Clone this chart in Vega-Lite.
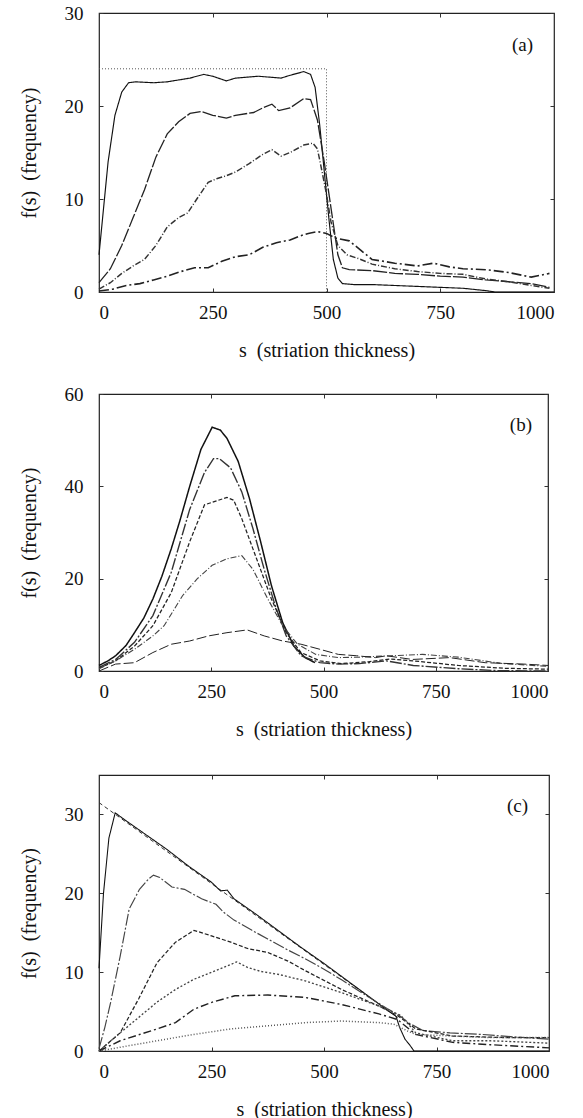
{
  "$schema": "https://vega.github.io/schema/vega-lite/v6.json",
  "padding": {"left": 18, "top": 3, "right": 5, "bottom": 0},
  "background": "white",
  "datasets": {
    "a": [
      {"series": "A0", "s": 0, "f": 24}, {"series": "A0", "s": 500, "f": 24}, {"series": "A0", "s": 500, "f": 0},
      {"series": "A1", "s": 0, "f": 4}, {"series": "A1", "s": 10, "f": 9}, {"series": "A1", "s": 20, "f": 14}, {"series": "A1", "s": 35, "f": 19}, {"series": "A1", "s": 50, "f": 21.5}, {"series": "A1", "s": 65, "f": 22.5}, {"series": "A1", "s": 80, "f": 22.6}, {"series": "A1", "s": 120, "f": 22.5}, {"series": "A1", "s": 150, "f": 22.6}, {"series": "A1", "s": 200, "f": 23}, {"series": "A1", "s": 230, "f": 23.4}, {"series": "A1", "s": 250, "f": 23.2}, {"series": "A1", "s": 280, "f": 22.7}, {"series": "A1", "s": 300, "f": 23}, {"series": "A1", "s": 350, "f": 23.2}, {"series": "A1", "s": 400, "f": 23}, {"series": "A1", "s": 420, "f": 23.3}, {"series": "A1", "s": 450, "f": 23.7}, {"series": "A1", "s": 465, "f": 23.4}, {"series": "A1", "s": 475, "f": 22}, {"series": "A1", "s": 485, "f": 18}, {"series": "A1", "s": 495, "f": 13}, {"series": "A1", "s": 505, "f": 8}, {"series": "A1", "s": 515, "f": 3.5}, {"series": "A1", "s": 525, "f": 1.5}, {"series": "A1", "s": 535, "f": 0.9}, {"series": "A1", "s": 560, "f": 0.8}, {"series": "A1", "s": 600, "f": 0.8}, {"series": "A1", "s": 650, "f": 0.7}, {"series": "A1", "s": 700, "f": 0.6}, {"series": "A1", "s": 750, "f": 0.5}, {"series": "A1", "s": 800, "f": 0.4}, {"series": "A1", "s": 850, "f": 0.15}, {"series": "A1", "s": 870, "f": 0}, {"series": "A1", "s": 1000, "f": 0},
      {"series": "A2", "s": 0, "f": 1}, {"series": "A2", "s": 25, "f": 2.5}, {"series": "A2", "s": 50, "f": 5}, {"series": "A2", "s": 75, "f": 8}, {"series": "A2", "s": 100, "f": 11}, {"series": "A2", "s": 125, "f": 14.5}, {"series": "A2", "s": 150, "f": 17}, {"series": "A2", "s": 175, "f": 18.3}, {"series": "A2", "s": 200, "f": 19.2}, {"series": "A2", "s": 225, "f": 19.4}, {"series": "A2", "s": 250, "f": 19}, {"series": "A2", "s": 280, "f": 18.7}, {"series": "A2", "s": 300, "f": 19}, {"series": "A2", "s": 340, "f": 19.3}, {"series": "A2", "s": 360, "f": 19.8}, {"series": "A2", "s": 380, "f": 20.2}, {"series": "A2", "s": 395, "f": 19.5}, {"series": "A2", "s": 420, "f": 19.8}, {"series": "A2", "s": 450, "f": 20.8}, {"series": "A2", "s": 465, "f": 20.7}, {"series": "A2", "s": 480, "f": 18.5}, {"series": "A2", "s": 495, "f": 14}, {"series": "A2", "s": 510, "f": 9}, {"series": "A2", "s": 525, "f": 4}, {"series": "A2", "s": 535, "f": 2.6}, {"series": "A2", "s": 550, "f": 2.4}, {"series": "A2", "s": 600, "f": 2.3}, {"series": "A2", "s": 650, "f": 2}, {"series": "A2", "s": 700, "f": 1.9}, {"series": "A2", "s": 750, "f": 1.7}, {"series": "A2", "s": 800, "f": 1.6}, {"series": "A2", "s": 850, "f": 1.3}, {"series": "A2", "s": 900, "f": 1.1}, {"series": "A2", "s": 950, "f": 0.9}, {"series": "A2", "s": 990, "f": 0.5},
      {"series": "A3", "s": 0, "f": 0.3}, {"series": "A3", "s": 25, "f": 1}, {"series": "A3", "s": 50, "f": 2}, {"series": "A3", "s": 75, "f": 2.8}, {"series": "A3", "s": 100, "f": 3.5}, {"series": "A3", "s": 125, "f": 5}, {"series": "A3", "s": 150, "f": 7}, {"series": "A3", "s": 175, "f": 8}, {"series": "A3", "s": 195, "f": 8.5}, {"series": "A3", "s": 215, "f": 10}, {"series": "A3", "s": 240, "f": 11.8}, {"series": "A3", "s": 260, "f": 12.2}, {"series": "A3", "s": 280, "f": 12.5}, {"series": "A3", "s": 300, "f": 12.9}, {"series": "A3", "s": 330, "f": 13.8}, {"series": "A3", "s": 360, "f": 14.8}, {"series": "A3", "s": 380, "f": 15.3}, {"series": "A3", "s": 400, "f": 14.6}, {"series": "A3", "s": 420, "f": 15}, {"series": "A3", "s": 450, "f": 15.8}, {"series": "A3", "s": 470, "f": 16}, {"series": "A3", "s": 480, "f": 15.4}, {"series": "A3", "s": 490, "f": 13}, {"series": "A3", "s": 500, "f": 10.5}, {"series": "A3", "s": 510, "f": 7.5}, {"series": "A3", "s": 525, "f": 5}, {"series": "A3", "s": 545, "f": 4}, {"series": "A3", "s": 570, "f": 3.6}, {"series": "A3", "s": 600, "f": 3}, {"series": "A3", "s": 650, "f": 2.5}, {"series": "A3", "s": 700, "f": 2.2}, {"series": "A3", "s": 750, "f": 2}, {"series": "A3", "s": 800, "f": 1.9}, {"series": "A3", "s": 850, "f": 1.4}, {"series": "A3", "s": 900, "f": 1.1}, {"series": "A3", "s": 950, "f": 0.7}, {"series": "A3", "s": 990, "f": 0.4},
      {"series": "A4", "s": 0, "f": 0.1}, {"series": "A4", "s": 30, "f": 0.3}, {"series": "A4", "s": 60, "f": 0.7}, {"series": "A4", "s": 90, "f": 0.9}, {"series": "A4", "s": 120, "f": 1.3}, {"series": "A4", "s": 150, "f": 1.7}, {"series": "A4", "s": 180, "f": 2.2}, {"series": "A4", "s": 210, "f": 2.6}, {"series": "A4", "s": 240, "f": 2.6}, {"series": "A4", "s": 270, "f": 3.3}, {"series": "A4", "s": 300, "f": 3.8}, {"series": "A4", "s": 330, "f": 4}, {"series": "A4", "s": 360, "f": 4.8}, {"series": "A4", "s": 390, "f": 5.3}, {"series": "A4", "s": 420, "f": 5.6}, {"series": "A4", "s": 440, "f": 6}, {"series": "A4", "s": 460, "f": 6.3}, {"series": "A4", "s": 480, "f": 6.5}, {"series": "A4", "s": 500, "f": 6.3}, {"series": "A4", "s": 520, "f": 5.8}, {"series": "A4", "s": 550, "f": 5.5}, {"series": "A4", "s": 575, "f": 4.5}, {"series": "A4", "s": 600, "f": 3.5}, {"series": "A4", "s": 650, "f": 3.1}, {"series": "A4", "s": 700, "f": 2.8}, {"series": "A4", "s": 735, "f": 3.1}, {"series": "A4", "s": 770, "f": 2.7}, {"series": "A4", "s": 800, "f": 2.5}, {"series": "A4", "s": 850, "f": 2.4}, {"series": "A4", "s": 900, "f": 2.1}, {"series": "A4", "s": 950, "f": 1.6}, {"series": "A4", "s": 990, "f": 2}
    ],
    "b": [
      {"series": "B1", "s": 0, "f": 1.2}, {"series": "B1", "s": 20, "f": 2.2}, {"series": "B1", "s": 37, "f": 3.3}, {"series": "B1", "s": 60, "f": 5.5}, {"series": "B1", "s": 79, "f": 8.3}, {"series": "B1", "s": 100, "f": 11.5}, {"series": "B1", "s": 120, "f": 15.6}, {"series": "B1", "s": 140, "f": 20.5}, {"series": "B1", "s": 161, "f": 26.5}, {"series": "B1", "s": 180, "f": 32.5}, {"series": "B1", "s": 202, "f": 40}, {"series": "B1", "s": 227, "f": 48}, {"series": "B1", "s": 252, "f": 52.8}, {"series": "B1", "s": 270, "f": 52.2}, {"series": "B1", "s": 285, "f": 50.4}, {"series": "B1", "s": 310, "f": 45.4}, {"series": "B1", "s": 335, "f": 37.4}, {"series": "B1", "s": 360, "f": 28}, {"series": "B1", "s": 384, "f": 18.5}, {"series": "B1", "s": 409, "f": 10.5}, {"series": "B1", "s": 434, "f": 5.4}, {"series": "B1", "s": 459, "f": 2.9}, {"series": "B1", "s": 481, "f": 1.8},
      {"series": "B2", "s": 0, "f": 0.8}, {"series": "B2", "s": 37, "f": 2.5}, {"series": "B2", "s": 79, "f": 6.2}, {"series": "B2", "s": 120, "f": 12}, {"series": "B2", "s": 161, "f": 21.4}, {"series": "B2", "s": 202, "f": 35}, {"series": "B2", "s": 235, "f": 43}, {"series": "B2", "s": 255, "f": 46}, {"series": "B2", "s": 268, "f": 46}, {"series": "B2", "s": 293, "f": 44}, {"series": "B2", "s": 318, "f": 38.8}, {"series": "B2", "s": 343, "f": 30.8}, {"series": "B2", "s": 368, "f": 22}, {"series": "B2", "s": 393, "f": 14}, {"series": "B2", "s": 417, "f": 7.6}, {"series": "B2", "s": 450, "f": 3.3}, {"series": "B2", "s": 492, "f": 1.8}, {"series": "B2", "s": 533, "f": 1.5}, {"series": "B2", "s": 580, "f": 1.6}, {"series": "B2", "s": 640, "f": 2.2}, {"series": "B2", "s": 700, "f": 1.2}, {"series": "B2", "s": 800, "f": 0.5}, {"series": "B2", "s": 880, "f": 0.1}, {"series": "B2", "s": 1000, "f": 0},
      {"series": "B3", "s": 0, "f": 0.6}, {"series": "B3", "s": 37, "f": 2.2}, {"series": "B3", "s": 79, "f": 5.4}, {"series": "B3", "s": 120, "f": 9.8}, {"series": "B3", "s": 161, "f": 17}, {"series": "B3", "s": 202, "f": 28}, {"series": "B3", "s": 235, "f": 36}, {"series": "B3", "s": 260, "f": 36.8}, {"series": "B3", "s": 285, "f": 37.6}, {"series": "B3", "s": 300, "f": 37}, {"series": "B3", "s": 318, "f": 33}, {"series": "B3", "s": 351, "f": 24.3}, {"series": "B3", "s": 384, "f": 15.6}, {"series": "B3", "s": 417, "f": 8.3}, {"series": "B3", "s": 450, "f": 4}, {"series": "B3", "s": 492, "f": 2.2}, {"series": "B3", "s": 540, "f": 1.6}, {"series": "B3", "s": 600, "f": 2}, {"series": "B3", "s": 650, "f": 2.6}, {"series": "B3", "s": 700, "f": 2.2}, {"series": "B3", "s": 800, "f": 1.2}, {"series": "B3", "s": 900, "f": 0.6}, {"series": "B3", "s": 1000, "f": 0.4},
      {"series": "B4", "s": 0, "f": 0.5}, {"series": "B4", "s": 37, "f": 2.2}, {"series": "B4", "s": 79, "f": 4.7}, {"series": "B4", "s": 120, "f": 7.6}, {"series": "B4", "s": 145, "f": 9.8}, {"series": "B4", "s": 186, "f": 16.3}, {"series": "B4", "s": 219, "f": 20}, {"series": "B4", "s": 252, "f": 22.9}, {"series": "B4", "s": 285, "f": 24.3}, {"series": "B4", "s": 318, "f": 25}, {"series": "B4", "s": 343, "f": 22}, {"series": "B4", "s": 376, "f": 15.6}, {"series": "B4", "s": 409, "f": 9.8}, {"series": "B4", "s": 442, "f": 5.8}, {"series": "B4", "s": 483, "f": 3.6}, {"series": "B4", "s": 533, "f": 2.9}, {"series": "B4", "s": 580, "f": 3}, {"series": "B4", "s": 650, "f": 3.3}, {"series": "B4", "s": 720, "f": 3.6}, {"series": "B4", "s": 800, "f": 3}, {"series": "B4", "s": 900, "f": 1.6}, {"series": "B4", "s": 1000, "f": 1},
      {"series": "B5", "s": 0, "f": 0}, {"series": "B5", "s": 37, "f": 1.5}, {"series": "B5", "s": 79, "f": 1.8}, {"series": "B5", "s": 120, "f": 4}, {"series": "B5", "s": 161, "f": 5.8}, {"series": "B5", "s": 202, "f": 6.5}, {"series": "B5", "s": 244, "f": 7.6}, {"series": "B5", "s": 285, "f": 8.3}, {"series": "B5", "s": 330, "f": 8.9}, {"series": "B5", "s": 368, "f": 7.6}, {"series": "B5", "s": 409, "f": 6.5}, {"series": "B5", "s": 450, "f": 5.8}, {"series": "B5", "s": 492, "f": 4.7}, {"series": "B5", "s": 533, "f": 3.6}, {"series": "B5", "s": 574, "f": 3.3}, {"series": "B5", "s": 616, "f": 2.9}, {"series": "B5", "s": 640, "f": 3.3}, {"series": "B5", "s": 698, "f": 2.5}, {"series": "B5", "s": 781, "f": 2.9}, {"series": "B5", "s": 860, "f": 1.8}, {"series": "B5", "s": 946, "f": 1.5}, {"series": "B5", "s": 1000, "f": 1.2}
    ],
    "c": [
      {"series": "C0", "s": 0, "f": 31.5}, {"series": "C0", "s": 665, "f": 4.2},
      {"series": "C1", "s": 0, "f": 10.5}, {"series": "C1", "s": 10, "f": 20}, {"series": "C1", "s": 22, "f": 27}, {"series": "C1", "s": 36, "f": 30.2}, {"series": "C1", "s": 60, "f": 29.2}, {"series": "C1", "s": 100, "f": 27.6}, {"series": "C1", "s": 150, "f": 25.6}, {"series": "C1", "s": 200, "f": 23.4}, {"series": "C1", "s": 250, "f": 21.4}, {"series": "C1", "s": 270, "f": 20.3}, {"series": "C1", "s": 285, "f": 20.4}, {"series": "C1", "s": 300, "f": 19.3}, {"series": "C1", "s": 350, "f": 17.3}, {"series": "C1", "s": 400, "f": 15.2}, {"series": "C1", "s": 450, "f": 13.1}, {"series": "C1", "s": 500, "f": 11.1}, {"series": "C1", "s": 550, "f": 9}, {"series": "C1", "s": 600, "f": 6.9}, {"series": "C1", "s": 640, "f": 5.2}, {"series": "C1", "s": 660, "f": 4.4}, {"series": "C1", "s": 668, "f": 3}, {"series": "C1", "s": 680, "f": 1.5}, {"series": "C1", "s": 690, "f": 0.8}, {"series": "C1", "s": 700, "f": 0}, {"series": "C1", "s": 1000, "f": 0},
      {"series": "C2", "s": 0, "f": 0.3}, {"series": "C2", "s": 13, "f": 3}, {"series": "C2", "s": 26, "f": 6.2}, {"series": "C2", "s": 47, "f": 12}, {"series": "C2", "s": 67, "f": 18}, {"series": "C2", "s": 90, "f": 20.5}, {"series": "C2", "s": 110, "f": 21.8}, {"series": "C2", "s": 121, "f": 22.3}, {"series": "C2", "s": 135, "f": 22}, {"series": "C2", "s": 162, "f": 20.8}, {"series": "C2", "s": 190, "f": 20.5}, {"series": "C2", "s": 228, "f": 19.3}, {"series": "C2", "s": 260, "f": 18.6}, {"series": "C2", "s": 277, "f": 17.6}, {"series": "C2", "s": 300, "f": 16.6}, {"series": "C2", "s": 310, "f": 16.3}, {"series": "C2", "s": 340, "f": 15.3}, {"series": "C2", "s": 375, "f": 14.2}, {"series": "C2", "s": 420, "f": 12.8}, {"series": "C2", "s": 458, "f": 11.7}, {"series": "C2", "s": 499, "f": 10.4}, {"series": "C2", "s": 540, "f": 9}, {"series": "C2", "s": 600, "f": 6.8}, {"series": "C2", "s": 640, "f": 5.4}, {"series": "C2", "s": 665, "f": 4.6}, {"series": "C2", "s": 690, "f": 3.5}, {"series": "C2", "s": 720, "f": 2.6}, {"series": "C2", "s": 780, "f": 2.3}, {"series": "C2", "s": 850, "f": 2.1}, {"series": "C2", "s": 920, "f": 1.8}, {"series": "C2", "s": 1000, "f": 1.5},
      {"series": "C3", "s": 0, "f": 0}, {"series": "C3", "s": 47, "f": 2.3}, {"series": "C3", "s": 88, "f": 6.6}, {"series": "C3", "s": 129, "f": 11.2}, {"series": "C3", "s": 170, "f": 13.8}, {"series": "C3", "s": 211, "f": 15.3}, {"series": "C3", "s": 250, "f": 14.6}, {"series": "C3", "s": 293, "f": 13.8}, {"series": "C3", "s": 330, "f": 13}, {"series": "C3", "s": 375, "f": 12.5}, {"series": "C3", "s": 420, "f": 11.4}, {"series": "C3", "s": 458, "f": 10.2}, {"series": "C3", "s": 539, "f": 7.8}, {"series": "C3", "s": 622, "f": 5.7}, {"series": "C3", "s": 663, "f": 4.5}, {"series": "C3", "s": 704, "f": 2.8}, {"series": "C3", "s": 786, "f": 1.9}, {"series": "C3", "s": 900, "f": 1.7}, {"series": "C3", "s": 1000, "f": 1.7},
      {"series": "C4", "s": 0, "f": 0}, {"series": "C4", "s": 47, "f": 2.3}, {"series": "C4", "s": 129, "f": 6.2}, {"series": "C4", "s": 170, "f": 7.8}, {"series": "C4", "s": 211, "f": 9.1}, {"series": "C4", "s": 260, "f": 10.2}, {"series": "C4", "s": 306, "f": 11.3}, {"series": "C4", "s": 330, "f": 10.6}, {"series": "C4", "s": 359, "f": 10.1}, {"series": "C4", "s": 400, "f": 9.7}, {"series": "C4", "s": 458, "f": 8.9}, {"series": "C4", "s": 539, "f": 7.4}, {"series": "C4", "s": 622, "f": 5.7}, {"series": "C4", "s": 671, "f": 4.5}, {"series": "C4", "s": 704, "f": 2.3}, {"series": "C4", "s": 786, "f": 1.3}, {"series": "C4", "s": 869, "f": 1.3}, {"series": "C4", "s": 1000, "f": 1},
      {"series": "C5", "s": 0, "f": 0}, {"series": "C5", "s": 47, "f": 1.3}, {"series": "C5", "s": 129, "f": 2.8}, {"series": "C5", "s": 170, "f": 3.6}, {"series": "C5", "s": 211, "f": 5.3}, {"series": "C5", "s": 252, "f": 6.2}, {"series": "C5", "s": 302, "f": 7}, {"series": "C5", "s": 375, "f": 7.1}, {"series": "C5", "s": 458, "f": 6.8}, {"series": "C5", "s": 539, "f": 5.9}, {"series": "C5", "s": 622, "f": 4.7}, {"series": "C5", "s": 663, "f": 4}, {"series": "C5", "s": 704, "f": 2.1}, {"series": "C5", "s": 786, "f": 1.1}, {"series": "C5", "s": 869, "f": 0.8}, {"series": "C5", "s": 1000, "f": 0.4},
      {"series": "C6", "s": 0, "f": 0}, {"series": "C6", "s": 129, "f": 1.3}, {"series": "C6", "s": 211, "f": 2.1}, {"series": "C6", "s": 293, "f": 2.8}, {"series": "C6", "s": 375, "f": 3.2}, {"series": "C6", "s": 458, "f": 3.6}, {"series": "C6", "s": 539, "f": 3.8}, {"series": "C6", "s": 622, "f": 3.6}, {"series": "C6", "s": 655, "f": 3.4}, {"series": "C6", "s": 687, "f": 2.5}, {"series": "C6", "s": 704, "f": 2.1}, {"series": "C6", "s": 786, "f": 1.9}, {"series": "C6", "s": 869, "f": 1.7}, {"series": "C6", "s": 1000, "f": 1.7}
    ]
  },
  "vconcat": [
    {
      "spacing": 23,
      "resolve": {"scale": {"strokeDash": "independent", "strokeWidth": "independent", "color": "independent"}},
      "vconcat": [
        {
          "width": 455, "height": 279,
          "title": {"text": "(a)", "anchor": "end", "frame": "group", "orient": "top", "font": "Liberation Serif", "fontSize": 19, "fontWeight": "normal", "baseline": "middle", "offset": 0, "dx": -21, "dy": 60, "color": "#111"},
          "data": {"name": "a"},
          "layer": [
            {
              "mark": {"type": "line"},
              "encoding": {
                "x": {"field": "s", "type": "quantitative", "scale": {"domain": [0, 1000], "nice": false}, "axis": {"values": [0, 250, 500, 750, 1000], "format": "d", "title": "s\u00a0\u00a0(striation thickness)"}},
                "y": {"field": "f", "type": "quantitative", "scale": {"domain": [0, 30], "nice": false}, "axis": {"values": [0, 10, 20, 30], "format": "d", "title": "f(s)\u00a0\u00a0(frequency)"}},
                "strokeDash": {"field": "series", "type": "nominal", "scale": {"domain": ["A0", "A1", "A2", "A3", "A4"], "range": [[1, 2], [1, 0], [14, 2], [6, 2, 1, 2], [10, 3, 2, 3]]}, "legend": null},
                "strokeWidth": {"field": "series", "type": "nominal", "scale": {"domain": ["A0", "A1", "A2", "A3", "A4"], "range": [1, 1.6, 1.1, 1, 1]}, "legend": null},
                "color": {"field": "series", "type": "nominal", "scale": {"domain": ["A0", "A1", "A2", "A3", "A4"], "range": ["#555555", "#111111", "#222222", "#333333", "#222222"]}, "legend": null}
              }
            },
            {
              "mark": {"type": "line", "opacity": 0},
              "encoding": {
                "x": {"field": "s", "type": "quantitative", "scale": {"domain": [0, 1000], "nice": false}, "axis": {"orient": "top", "values": [0, 250, 500, 750, 1000], "labels": false, "title": null}},
                "y": {"field": "f", "type": "quantitative", "scale": {"domain": [0, 30], "nice": false}, "axis": {"orient": "right", "values": [0, 10, 20, 30], "labels": false, "title": null}},
                "detail": {"field": "series"}
              }
            }
          ],
          "resolve": {"axis": {"x": "independent", "y": "independent"}}
        },
        {
          "width": 449, "height": 277,
          "title": {"text": "(b)", "anchor": "end", "frame": "group", "orient": "top", "font": "Liberation Serif", "fontSize": 19, "fontWeight": "normal", "baseline": "middle", "offset": 0, "dx": -16, "dy": 59, "color": "#111"},
          "data": {"name": "b"},
          "layer": [
            {
              "mark": {"type": "line"},
              "encoding": {
                "x": {"field": "s", "type": "quantitative", "scale": {"domain": [0, 1000], "nice": false}, "axis": {"values": [0, 250, 500, 750, 1000], "format": "d", "title": "s\u00a0\u00a0(striation thickness)"}},
                "y": {"field": "f", "type": "quantitative", "scale": {"domain": [0, 60], "nice": false}, "axis": {"values": [0, 20, 40, 60], "format": "d", "title": "f(s)\u00a0\u00a0(frequency)"}},
                "strokeDash": {"field": "series", "type": "nominal", "scale": {"domain": ["B1", "B2", "B3", "B4", "B5"], "range": [[1, 0], [12, 2, 2, 2], [4, 2], [6, 2, 1, 2], [10, 3]]}, "legend": null},
                "strokeWidth": {"field": "series", "type": "nominal", "scale": {"domain": ["B1", "B2", "B3", "B4", "B5"], "range": [1.5, 1, 1, 1, 1]}, "legend": null},
                "color": {"field": "series", "type": "nominal", "scale": {"domain": ["B1", "B2", "B3", "B4", "B5"], "range": ["#111111", "#333333", "#222222", "#444444", "#222222"]}, "legend": null}
              }
            },
            {
              "mark": {"type": "line", "opacity": 0},
              "encoding": {
                "x": {"field": "s", "type": "quantitative", "scale": {"domain": [0, 1000], "nice": false}, "axis": {"orient": "top", "values": [0, 250, 500, 750, 1000], "labels": false, "title": null}},
                "y": {"field": "f", "type": "quantitative", "scale": {"domain": [0, 60], "nice": false}, "axis": {"orient": "right", "values": [0, 20, 40, 60], "labels": false, "title": null}},
                "detail": {"field": "series"}
              }
            }
          ],
          "resolve": {"axis": {"x": "independent", "y": "independent"}}
        }
      ]
    },
    {
      "width": 450, "height": 276,
      "title": {"text": "(c)", "anchor": "end", "frame": "group", "orient": "top", "font": "Liberation Serif", "fontSize": 19, "fontWeight": "normal", "baseline": "middle", "offset": 0, "dx": -21, "dy": 50, "color": "#111"},
      "data": {"name": "c"},
      "layer": [
        {
          "mark": {"type": "line"},
          "encoding": {
            "x": {"field": "s", "type": "quantitative", "scale": {"domain": [0, 1000], "nice": false}, "axis": {"values": [0, 250, 500, 750, 1000], "format": "d", "title": "s\u00a0\u00a0(striation thickness)"}},
            "y": {"field": "f", "type": "quantitative", "scale": {"domain": [0, 35], "nice": false}, "axis": {"values": [0, 10, 20, 30], "format": "d", "title": "f(s)\u00a0\u00a0(frequency)"}},
            "strokeDash": {"field": "series", "type": "nominal", "scale": {"domain": ["C0", "C1", "C2", "C3", "C4", "C5", "C6"], "range": [[4, 3], [1, 0], [12, 2, 2, 2], [4, 2], [2, 2], [8, 3, 2, 3], [1, 2]]}, "legend": null},
            "strokeWidth": {"field": "series", "type": "nominal", "scale": {"domain": ["C0", "C1", "C2", "C3", "C4", "C5", "C6"], "range": [1, 1.5, 1, 1, 1, 1, 1]}, "legend": null},
            "color": {"field": "series", "type": "nominal", "scale": {"domain": ["C0", "C1", "C2", "C3", "C4", "C5", "C6"], "range": ["#333333", "#111111", "#444444", "#222222", "#444444", "#222222", "#555555"]}, "legend": null}
          }
        },
        {
          "mark": {"type": "line", "opacity": 0},
          "encoding": {
            "x": {"field": "s", "type": "quantitative", "scale": {"domain": [0, 1000], "nice": false}, "axis": {"orient": "top", "values": [0, 250, 500, 750, 1000], "labels": false, "title": null}},
            "y": {"field": "f", "type": "quantitative", "scale": {"domain": [0, 35], "nice": false}, "axis": {"orient": "right", "values": [0, 10, 20, 30], "labels": false, "title": null}},
            "detail": {"field": "series"}
          }
        }
      ],
      "resolve": {"axis": {"x": "independent", "y": "independent"}}
    }
  ],
  "spacing": 33,
  "resolve": {"scale": {"strokeDash": "independent", "strokeWidth": "independent", "color": "independent"}},
  "config": {
    "view": {"stroke": "#222222", "strokeWidth": 1.2},
    "axis": {"labelFont": "Liberation Serif", "labelFontSize": 19, "labelColor": "#111111", "titleFont": "Liberation Serif", "titleFontSize": 20, "titleFontWeight": "normal", "titleColor": "#111111", "grid": false, "domain": false, "tickColor": "#333333", "tickSize": -4, "labelPadding": 15},
    "axisX": {"titlePadding": 18},
    "axisY": {"titlePadding": 25, "labelPadding": 20},
    "line": {"strokeCap": "butt"}
  }
}
